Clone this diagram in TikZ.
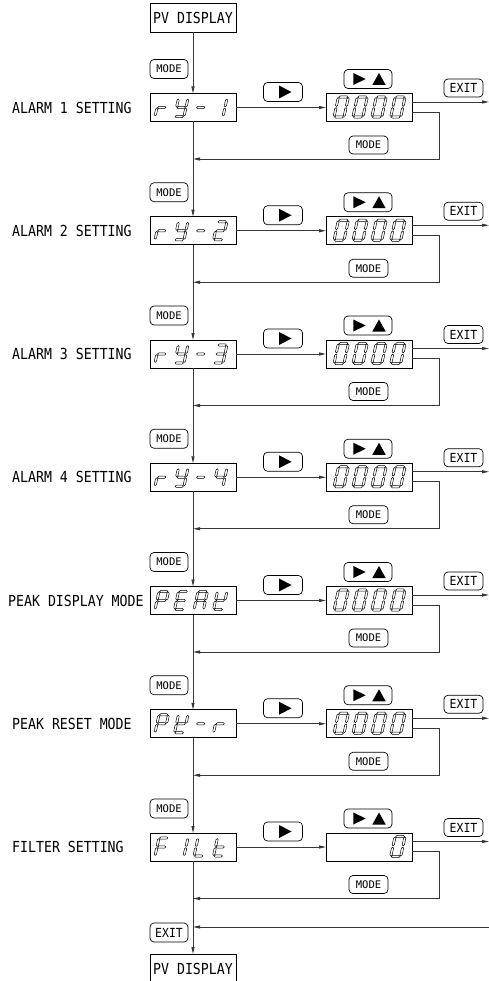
\documentclass[tikz,border=0pt]{standalone}
\usepackage{fontspec}
\setmainfont{Liberation Sans}
\newfontfamily\lblfont[FakeStretch=0.87]{DejaVu Sans Mono}
\newfontfamily\modefont{DejaVu Sans Mono}
\newfontfamily\exitfont[FakeStretch=0.92]{DejaVu Sans Mono}
\usetikzlibrary{arrows.meta}
\definecolor{linegray}{RGB}{55,55,55}
\tikzset{
 disp/.style={draw=black, line width=0.8pt, minimum width=86pt, minimum height=28pt, inner sep=0pt, outer sep=0pt},
 btn/.style={draw=black, line width=0.7pt, rounded corners=4pt, minimum width=39pt, minimum height=18pt, inner sep=0pt, outer sep=0pt},
 modebtn/.style={btn, font=\modefont\fontsize{10.5}{12}\selectfont},
 exitbtn/.style={btn, font=\exitfont\fontsize{12.5}{14}\selectfont},
 conn/.style={draw=linegray, line width=0.9pt},
 arr/.style={conn, -{Triangle[length=7pt,width=3pt]}},
 seg/.style={draw=black, line width=0.5pt, line join=miter},
 lbl/.style={anchor=west, inner sep=0pt, font=\lblfont\fontsize{15.2}{17}\selectfont},
 pvbox/.style={disp, minimum height=29pt, font=\lblfont\fontsize{15.2}{17}\selectfont},
}
% seven-segment drawing
\newcommand\myhseg[3]{\draw[seg] (#1,#3) -- (#1+1.1,#3+1.1) -- (#2-1.1,#3+1.1) -- (#2,#3) -- (#2-1.1,#3-1.1) -- (#1+1.1,#3-1.1) -- cycle;}
\newcommand\myvseg[3]{\draw[seg] (#1,#2) -- (#1+1.1,#2+1.1) -- (#1+1.1,#3-1.1) -- (#1,#3) -- (#1-1.1,#3-1.1) -- (#1-1.1,#2+1.1) -- cycle;}
\def\segXa{\myhseg{0.6}{\sW-0.6}{\sH}}
\def\segXg{\myhseg{0.6}{\sW-0.6}{\sH/2}}
\def\segXd{\myhseg{0.6}{\sW-0.6}{0}}
\def\segXf{\myvseg{0}{\sH/2+0.6}{\sH-0.6}}
\def\segXe{\myvseg{0}{0.6}{\sH/2-0.6}}
\def\segXb{\myvseg{\sW}{\sH/2+0.6}{\sH-0.6}}
\def\segXc{\myvseg{\sW}{0.6}{\sH/2-0.6}}
\newcommand\ssglyph[5]{\def\sW{#3}\def\sH{#4}\begin{scope}[shift={(#1,#2)},xslant=0.22,yscale=-1]\foreach \s in #5 {\csname segX\s\endcsname}\end{scope}}
\newcommand\leftglyph[3]{\ssglyph{155+19.5*#1}{#2+9}{9.5}{18}{#3}}
\newcommand\valglyph[3]{\ssglyph{334+18.9*#1}{#2+9.5}{10}{20}{#3}}
\def\chr{e,g}
\def\chY{f,b,g,c,d}
\def\chdash{g}
\def\chone{b,c}
\def\chtwo{a,b,g,e,d}
\def\chthree{a,b,g,c,d}
\def\chfour{f,g,b,c}
\def\chP{a,b,f,g,e}
\def\chE{a,f,g,e,d}
\def\chA{a,b,c,e,f,g}
\def\chK{f,e,g,d,b}
\def\chF{a,f,g,e}
\def\chI{b,c}
\def\chL{f,e,d}
\def\cht{f,e,g,d}
\def\chzero{a,b,c,d,e,f}
\newcommand\myblock[4]{%
 \node[disp] (d#1) at (193,#2) {};
 \node[disp] (v#1) at (369,#2) {};
 \node[lbl] (l#1) at (#4,#2) {#3};
 \node[modebtn, minimum width=38pt, minimum height=19pt] (m#1) at (169,#2-38.5) {MODE};
 \node[btn, minimum height=19pt] (r#1) at (283,#2-15.5) {};
 \fill ([shift={(-4,-6.5)}]r#1.center) -- ([shift={(-4,6.5)}]r#1.center) -- ([shift={(8.5,0)}]r#1.center) -- cycle;
 \node[btn, minimum width=48pt, minimum height=19pt] (u#1) at (368,#2-28.5) {};
 \fill ([shift={(-14.7,-6)}]u#1.center) -- ([shift={(-14.7,6)}]u#1.center) -- ([shift={(-2.3,0)}]u#1.center) -- cycle;
 \fill ([shift={(4.3,6)}]u#1.center) -- ([shift={(17.7,6)}]u#1.center) -- ([shift={(11,-6)}]u#1.center) -- cycle;
 \node[exitbtn] (x#1) at (463.5,#2-19.5) {EXIT};
 \node[modebtn] (n#1) at (368.5,#2+37.5) {MODE};
 \coordinate (j#1) at (193,#2+51.5);
 \coordinate (k#1) at (439,#2+51.5);
 \coordinate (e#1) at (489,#2-5.5);
 \draw[arr] (d#1) -- (v#1);
 \draw[arr] ([yshift=5.5pt]v#1.east) -- (e#1);
 \draw[arr] ([yshift=-4.5pt]v#1.east) -| (k#1) -- (j#1);
}
\begin{document}
\begin{tikzpicture}[x=1pt,y=-1pt]
\useasboundingbox (0,0) rectangle (489,981);
\fill[white] (0,0) rectangle (489,981);
\node[pvbox] (pv1) at (193,17.5) {PV DISPLAY};
\node[pvbox] (pv2) at (193,968.5) {PV DISPLAY};
\myblock{1}{107.5}{ALARM 1 SETTING}{12}
\myblock{2}{230.75}{ALARM 2 SETTING}{12}
\myblock{3}{354}{ALARM 3 SETTING}{12}
\myblock{4}{477.25}{ALARM 4 SETTING}{12}
\myblock{5}{600.5}{PEAK DISPLAY MODE}{8}
\myblock{6}{723.75}{PEAK RESET MODE}{12}
\myblock{7}{847}{FILTER SETTING}{12}
% left display glyphs
\leftglyph{0}{107.5}{\chr}\leftglyph{1}{107.5}{\chY}\leftglyph{2}{107.5}{\chdash}\leftglyph{3}{107.5}{\chone}
\leftglyph{0}{230.75}{\chr}\leftglyph{1}{230.75}{\chY}\leftglyph{2}{230.75}{\chdash}\leftglyph{3}{230.75}{\chtwo}
\leftglyph{0}{354}{\chr}\leftglyph{1}{354}{\chY}\leftglyph{2}{354}{\chdash}\leftglyph{3}{354}{\chthree}
\leftglyph{0}{477.25}{\chr}\leftglyph{1}{477.25}{\chY}\leftglyph{2}{477.25}{\chdash}\leftglyph{3}{477.25}{\chfour}
\leftglyph{0}{600.5}{\chP}\leftglyph{1}{600.5}{\chE}\leftglyph{2}{600.5}{\chA}\leftglyph{3}{600.5}{\chK}
\leftglyph{0}{723.75}{\chP}\leftglyph{1}{723.75}{\chK}\leftglyph{2}{723.75}{\chdash}\leftglyph{3}{723.75}{\chr}
\leftglyph{0}{847}{\chF}\leftglyph{1}{847}{\chI}\leftglyph{2}{847}{\chL}\leftglyph{3}{847}{\cht}
% value glyphs
\foreach \cc in {107.5,230.75,354,477.25,600.5,723.75}{
  \valglyph{0}{\cc}{\chzero}\valglyph{1}{\cc}{\chzero}\valglyph{2}{\cc}{\chzero}\valglyph{3}{\cc}{\chzero}
}
\valglyph{3}{847}{\chzero}
% main line
\draw[arr] (pv1.south) -- (d1.north);
\draw[arr] (d1.south) -- (d2.north);
\draw[arr] (d2.south) -- (d3.north);
\draw[arr] (d3.south) -- (d4.north);
\draw[arr] (d4.south) -- (d5.north);
\draw[arr] (d5.south) -- (d6.north);
\draw[arr] (d6.south) -- (d7.north);
\draw[arr] (d7.south) -- (pv2.north);
% exit return
\node[exitbtn, minimum width=38pt, minimum height=19pt] (xb) at (169,932.5) {EXIT};
\coordinate (eb) at (489,927);
\coordinate (jb) at (193,927);
\draw[arr] (eb) -- (jb);
\end{tikzpicture}
\end{document}
